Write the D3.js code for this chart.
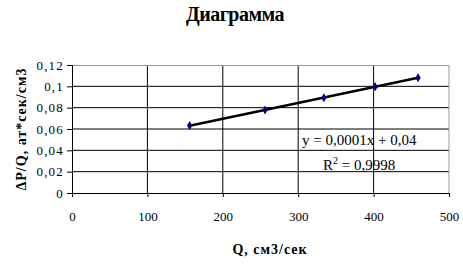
<!DOCTYPE html>
<html>
<head>
<meta charset="utf-8">
<script src="https://cdn.jsdelivr.net/npm/d3@7"></script>
<style>
  body { margin: 0; background: #fff; }
  svg { font-family: "Liberation Serif", "Times New Roman", serif; }
</style>
</head>
<body>
<div id="chart"></div>
<script>
// data
var qValues = [156, 256, 334, 402, 459];
var ratioValues = [0.0632, 0.0778, 0.0893, 0.0997, 0.1080];
var xTicks = [0, 100, 200, 300, 400, 500];
var yTicks = [0, 0.02, 0.04, 0.06, 0.08, 0.1, 0.12];
var yTickLabels = ["0", "0,02", "0,04", "0,06", "0,08", "0,1", "0,12"];

var svgWidth = 463;
var svgHeight = 265;

var margin = { top: 65, right: 14, bottom: 72, left: 72 };
var width = svgWidth - margin.left - margin.right;
var height = svgHeight - margin.top - margin.bottom;

var svg = d3.select("#chart")
  .append("svg")
  .attr("width", svgWidth)
  .attr("height", svgHeight);

var chartGroup = svg.append("g")
  .attr("transform", `translate(${margin.left}, ${margin.top})`);

var xLinearScale = d3.scaleLinear().domain([0, 500]).range([0, width]);
var yLinearScale = d3.scaleLinear().domain([0, 0.12]).range([height, 0]);

// gridlines
chartGroup.selectAll(".hgrid")
  .data(yTicks.slice(1, -1))
  .enter()
  .append("line")
  .attr("x1", 0).attr("x2", width)
  .attr("y1", d => yLinearScale(d)).attr("y2", d => yLinearScale(d))
  .attr("stroke", "#000").attr("stroke-width", 1);

chartGroup.selectAll(".vgrid")
  .data(xTicks.slice(1, -1))
  .enter()
  .append("line")
  .attr("y1", 0).attr("y2", height)
  .attr("x1", d => xLinearScale(d)).attr("x2", d => xLinearScale(d))
  .attr("stroke", "#000").attr("stroke-width", 1);

// plot border top / right
chartGroup.append("path")
  .attr("d", `M0,0.5H${width}V${height}`)
  .attr("fill", "none")
  .attr("stroke", "#999")
  .attr("stroke-width", 1);

// axes
var bottomAxis = d3.axisBottom(xLinearScale).tickValues(xTicks).tickSize(4).tickPadding(15);
var leftAxis = d3.axisLeft(yLinearScale).tickValues(yTicks).tickSize(5).tickPadding(3)
  .tickFormat((d, i) => yTickLabels[i]);

var xAxis = chartGroup.append("g")
  .attr("transform", `translate(0, ${height})`)
  .call(bottomAxis);

var yAxis = chartGroup.append("g")
  .call(leftAxis);

[xAxis, yAxis].forEach(function(a) {
  a.select(".domain").attr("stroke", "#000");
  a.selectAll(".tick line").attr("stroke", "#000");
  a.selectAll("text")
    .attr("font-family", "Liberation Serif, serif")
    .attr("font-size", "13px")
    .attr("fill", "#000");
});
yAxis.selectAll("text").attr("letter-spacing", "1.2px");

// linear trendline
var mx = d3.mean(qValues), my = d3.mean(ratioValues);
var sxy = d3.sum(qValues, (q, i) => (q - mx) * (ratioValues[i] - my));
var sxx = d3.sum(qValues, q => (q - mx) * (q - mx));
var slope = sxy / sxx;
var intercept = my - slope * mx;
var xMin = d3.min(qValues), xMax = d3.max(qValues);

chartGroup.append("line")
  .attr("x1", xLinearScale(xMin))
  .attr("y1", yLinearScale(slope * xMin + intercept))
  .attr("x2", xLinearScale(xMax))
  .attr("y2", yLinearScale(slope * xMax + intercept))
  .attr("stroke", "#000")
  .attr("stroke-width", 2.5);

// markers
chartGroup.selectAll(".pt")
  .data(qValues)
  .enter()
  .append("path")
  .attr("d", d3.symbol().type(d3.symbolDiamond).size(24))
  .attr("transform", (d, i) => `translate(${xLinearScale(d)}, ${yLinearScale(ratioValues[i])})`)
  .attr("fill", "#000080");

// trendline equation
var eq = chartGroup.append("g").attr("font-size", "15px");
eq.append("text")
  .attr("x", 230).attr("y", 80)
  .text("y = 0,0001x + 0,04");
var r2 = eq.append("text")
  .attr("x", 251).attr("y", 105);
r2.append("tspan").text("R");
r2.append("tspan").attr("dy", -6).attr("font-size", "10px").text("2");
r2.append("tspan").attr("dy", 6).text(" = 0,9998");

// title
svg.append("text")
  .attr("x", 235)
  .attr("y", 21)
  .attr("text-anchor", "middle")
  .attr("font-weight", "bold")
  .attr("font-size", "20px")
  .attr("letter-spacing", "-0.5px")
  .text("Диаграмма");

// axis titles
svg.append("text")
  .attr("x", 270)
  .attr("y", 254)
  .attr("text-anchor", "middle")
  .attr("font-weight", "bold")
  .attr("font-size", "14px")
  .attr("letter-spacing", "1px")
  .text("Q, см3/сек");

svg.append("text")
  .attr("transform", `translate(26, ${margin.top + height / 2}) rotate(-90)`)
  .attr("text-anchor", "middle")
  .attr("font-weight", "bold")
  .attr("font-size", "14px")
  .attr("letter-spacing", "1px")
  .text("ΔP/Q, ат*сек/см3");
</script>
</body>
</html>
